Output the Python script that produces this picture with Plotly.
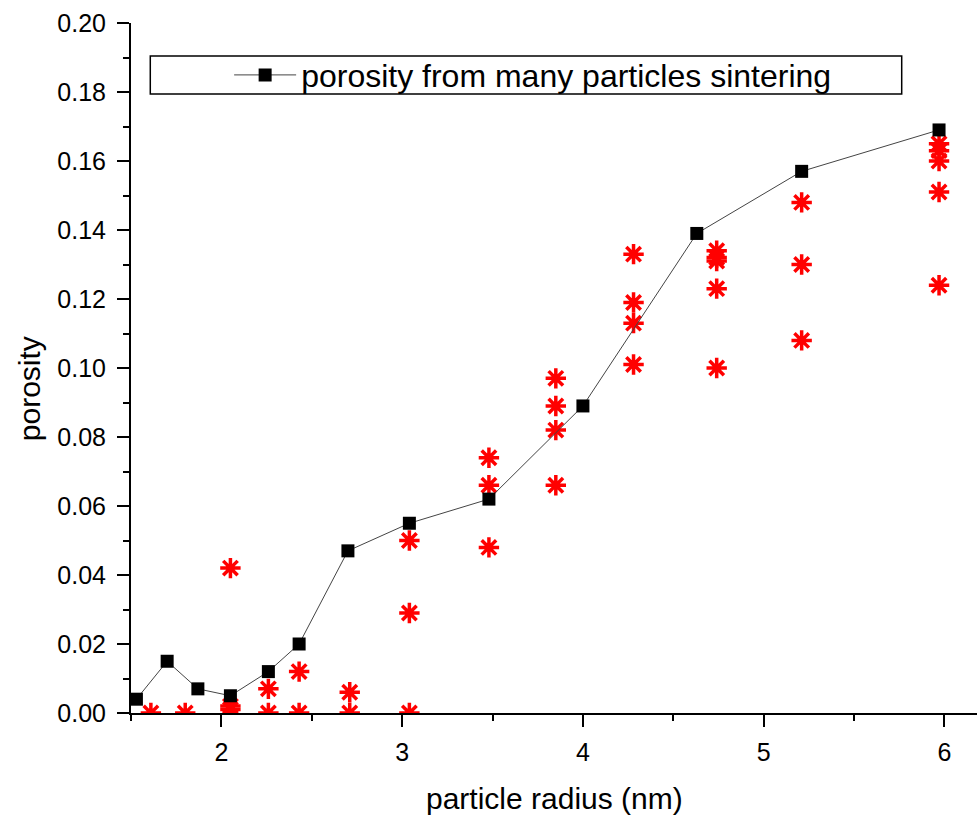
import plotly.graph_objects as go

# black series: porosity from many particles sintering
sq_x = [1.53, 1.70, 1.87, 2.05, 2.26, 2.43, 2.70, 3.04, 3.48, 4.00, 4.63, 5.21, 5.97]
sq_y = [0.004, 0.015, 0.007, 0.005, 0.012, 0.020, 0.047, 0.055, 0.062, 0.089, 0.139, 0.157, 0.169]

# red series: individual samples
st_x = [1.61, 1.80,
        2.05, 2.05, 2.05,
        2.26, 2.26,
        2.43, 2.43,
        2.71, 2.71,
        3.04, 3.04, 3.04,
        3.48, 3.48, 3.48,
        3.85, 3.85, 3.85, 3.85,
        4.28, 4.28, 4.28, 4.28,
        4.74, 4.74, 4.74, 4.74, 4.74,
        5.21, 5.21, 5.21,
        5.97, 5.97, 5.97, 5.97, 5.97]
st_y = [0.0, 0.0,
        0.042, 0.002, 0.001,
        0.007, 0.0,
        0.012, 0.0,
        0.006, 0.0,
        0.050, 0.029, 0.0,
        0.074, 0.066, 0.048,
        0.097, 0.089, 0.082, 0.066,
        0.133, 0.119, 0.113, 0.101,
        0.134, 0.132, 0.131, 0.123, 0.100,
        0.148, 0.130, 0.108,
        0.165, 0.163, 0.160, 0.151, 0.124]

legend_name = "porosity from many particles sintering"
x_title = "particle radius (nm)"
y_title = "porosity"

FONT = "Arial, Liberation Sans, sans-serif"

fig = go.Figure()
fig.add_trace(go.Scatter(
    x=st_x, y=st_y, mode="markers", showlegend=False,
    marker=dict(symbol="asterisk-open", size=17, color="#ff0000",
                line=dict(color="#ff0000", width=3.5)),
))
fig.add_trace(go.Scatter(
    x=sq_x, y=sq_y, mode="lines+markers", name=legend_name,
    line=dict(color="#444444", width=1),
    marker=dict(symbol="square", size=13, color="#000000"),
))

axis_common = dict(
    showline=True, linecolor="#000000", linewidth=2,
    ticks="outside", ticklen=12, tickwidth=2, tickcolor="#000000",
    showgrid=False, zeroline=False, mirror=False,
    tickfont=dict(family=FONT, size=25, color="#000000"),
)

fig.update_xaxes(range=[1.5, 6.18], dtick=1, tick0=0,
                 minor=dict(dtick=0.5, ticks="outside", ticklen=6, tickwidth=2, tickcolor="#000000"),
                 ticklabelstandoff=4, **axis_common)
fig.update_yaxes(range=[0, 0.20], dtick=0.02, tick0=0, tickformat=".2f",
                 minor=dict(dtick=0.01, ticks="outside", ticklen=6, tickwidth=2, tickcolor="#000000"),
                 ticklabelstandoff=6, **axis_common)

fig.update_layout(
    width=977, height=818,
    margin=dict(l=131, r=0, t=23, b=105),
    paper_bgcolor="#ffffff", plot_bgcolor="#ffffff",
    font=dict(family=FONT, color="#000000"),
    legend=dict(x=0.116, y=0.9245, xanchor="left", yanchor="middle",
                bgcolor="rgba(0,0,0,0)", borderwidth=0, itemwidth=62,
                font=dict(family=FONT, size=32, color="#000000")),
    shapes=[dict(type="rect", xref="paper", yref="paper",
                 x0=0.0228, x1=0.911, y0=0.897, y1=0.952,
                 line=dict(color="#000000", width=1.5), fillcolor="rgba(0,0,0,0)")],
    annotations=[
        dict(text=x_title, xref="paper", yref="paper", x=0.5, y=-0.124,
             xanchor="center", yanchor="middle", showarrow=False,
             font=dict(family=FONT, size=30, color="#000000")),
        dict(text=y_title, xref="paper", yref="paper", x=-0.12, y=0.47,
             xanchor="center", yanchor="middle", showarrow=False, textangle=-90,
             font=dict(family=FONT, size=30, color="#000000")),
    ],
)

fig.write_html("out.html")
